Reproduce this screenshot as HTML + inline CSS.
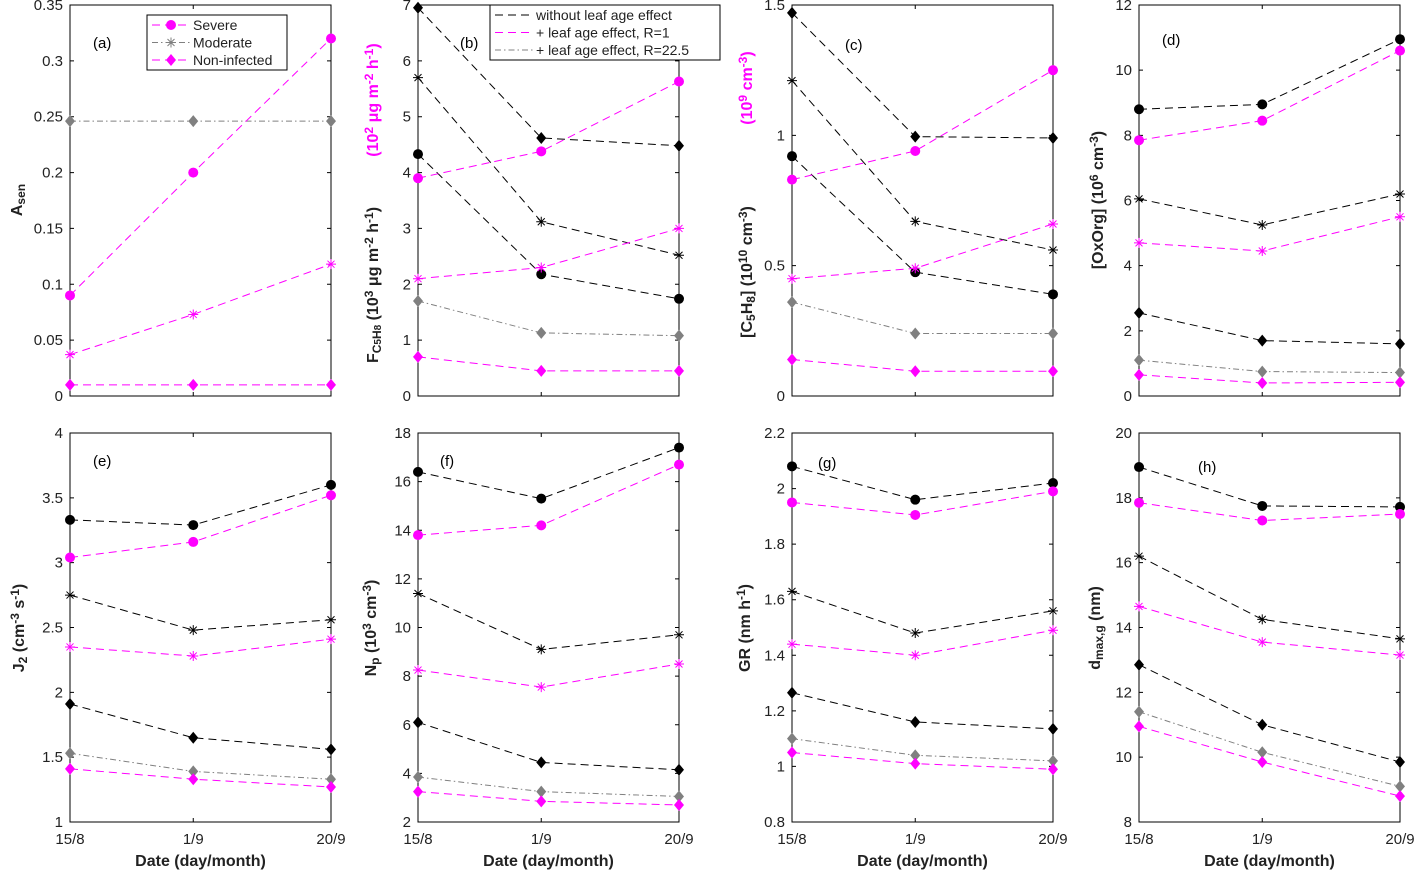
<!DOCTYPE html>
<html><head><meta charset="utf-8">
<style>
html,body{margin:0;padding:0;background:#fff;}
svg{display:block;font-family:"Liberation Sans",sans-serif;}
</style></head>
<body>
<svg id="chart" width="1417" height="870" viewBox="0 0 1417 870" xmlns="http://www.w3.org/2000/svg"></svg>
<script>
// ---- data ----
const dateLabels = ['15/8','1/9','20/9'];
const dayOffsets = [0, 17, 36];

const aSevere = [0.09, 0.2, 0.32];
const aModerate = [0.037, 0.073, 0.118];
const aNonInf = [0.01, 0.01, 0.01];
const aGray = [0.246, 0.246, 0.246];

const bBlkDia = [6.95, 4.62, 4.48];
const bBlkStar = [5.7, 3.12, 2.52];
const bBlkCirc = [4.33, 2.18, 1.74];
const bMagCirc = [3.9, 4.38, 5.63];
const bMagStar = [2.1, 2.3, 3.0];
const bGrayDia = [1.7, 1.13, 1.08];
const bMagDia = [0.7, 0.45, 0.45];

const cBlkDia = [1.47, 0.995, 0.99];
const cBlkStar = [1.21, 0.67, 0.56];
const cBlkCirc = [0.92, 0.475, 0.39];
const cMagCirc = [0.83, 0.94, 1.25];
const cMagStar = [0.45, 0.49, 0.66];
const cGrayDia = [0.36, 0.24, 0.24];
const cMagDia = [0.14, 0.095, 0.095];

const dBlkCirc = [8.8, 8.95, 10.95];
const dMagCirc = [7.85, 8.45, 10.6];
const dBlkStar = [6.05, 5.25, 6.2];
const dMagStar = [4.7, 4.45, 5.5];
const dBlkDia = [2.55, 1.7, 1.6];
const dGrayDia = [1.1, 0.75, 0.72];
const dMagDia = [0.65, 0.4, 0.42];

const eBlkCirc = [3.33, 3.29, 3.6];
const eMagCirc = [3.04, 3.16, 3.52];
const eBlkStar = [2.75, 2.48, 2.56];
const eMagStar = [2.35, 2.28, 2.41];
const eBlkDia = [1.91, 1.65, 1.56];
const eGrayDia = [1.53, 1.39, 1.33];
const eMagDia = [1.41, 1.33, 1.27];

const fBlkCirc = [16.4, 15.3, 17.4];
const fMagCirc = [13.8, 14.2, 16.7];
const fBlkStar = [11.4, 9.1, 9.7];
const fMagStar = [8.25, 7.55, 8.5];
const fBlkDia = [6.1, 4.45, 4.15];
const fGrayDia = [3.85, 3.25, 3.05];
const fMagDia = [3.25, 2.85, 2.7];

const gBlkCirc = [2.08, 1.96, 2.02];
const gMagCirc = [1.95, 1.905, 1.99];
const gBlkStar = [1.63, 1.48, 1.56];
const gMagStar = [1.44, 1.40, 1.49];
const gBlkDia = [1.265, 1.16, 1.135];
const gGrayDia = [1.10, 1.04, 1.02];
const gMagDia = [1.05, 1.01, 0.99];

const hBlkCirc = [18.95, 17.75, 17.72];
const hMagCirc = [17.85, 17.3, 17.5];
const hBlkStar = [16.2, 14.25, 13.65];
const hMagStar = [14.65, 13.55, 13.15];
const hBlkDia = [12.85, 11.0, 9.85];
const hGrayDia = [11.4, 10.15, 9.1];
const hMagDia = [10.95, 9.85, 8.8];

const ticksA = ['0','0.05','0.1','0.15','0.2','0.25','0.3','0.35'];
const ticksB = ['0','1','2','3','4','5','6','7'];
const ticksC = ['0','0.5','1','1.5'];
const ticksD = ['0','2','4','6','8','10','12'];
const ticksE = ['1','1.5','2','2.5','3','3.5','4'];
const ticksF = ['2','4','6','8','10','12','14','16','18'];
const ticksG = ['0.8','1','1.2','1.4','1.6','1.8','2','2.2'];
const ticksH = ['8','10','12','14','16','18','20'];

// ---- drawing ----
const NS = 'http://www.w3.org/2000/svg';
const svg = document.getElementById('chart');
function mk(tag, attrs, parent){
  const e = document.createElementNS(NS, tag);
  for (const k in attrs) e.setAttribute(k, attrs[k]);
  (parent||svg).appendChild(e);
  return e;
}
const MAG = '#ff00ff', GRAY = '#808080', BLK = '#000';
const STY = {
  black: {stroke: BLK, dash: '8,5', w: 1},
  mag: {stroke: MAG, dash: '8,5', w: 1},
  gray: {stroke: GRAY, dash: '6,3,1.5,3', w: 1}
};
function marker(g, type, x, y, col, name){
  let m;
  if (type === 'circle') m = mk('circle', {cx:x, cy:y, r:5, fill:col}, g);
  else if (type === 'diamond') m = mk('polygon', {points:`${x},${y-6} ${x+5},${y} ${x},${y+6} ${x-5},${y}`, fill:col}, g);
  else {
    m = mk('path', {d:`M${x-5},${y}H${x+5}M${x},${y-5}V${y+5}M${x-3.5},${y-3.5}L${x+3.5},${y+3.5}M${x-3.5},${y+3.5}L${x+3.5},${y-3.5}`, stroke:col, 'stroke-width':1, fill:'none'}, g);
  }
  
  
}
function panel(cfg){
  const g = mk('g', {});
  
  
  const x0 = cfg.x0, x1 = cfg.x1, yT = cfg.yT, yB = cfg.yB;
  const xs = d => x0 + (d - dayOffsets[0]) / (dayOffsets[2] - dayOffsets[0]) * (x1 - x0);
  const ys = v => yB - (v - cfg.ymin) / (cfg.ymax - cfg.ymin) * (yB - yT);
  const box = mk('rect', {x:x0, y:yT, width:x1-x0, height:yB-yT, fill:'none', stroke:'#000', 'stroke-width':1}, g);
  
  
  // y ticks
  const n = cfg.ticks.length;
  cfg.ticks.forEach((t, i) => {
    const v = cfg.ymin + i * (cfg.ymax - cfg.ymin) / (n - 1);
    const y = ys(v);
    mk('path', {d:`M${x0},${y}h4M${x1},${y}h-4`, stroke:'#000', 'stroke-width':1}, g);
    const tx = mk('text', {x:x0-7, y:y+5, 'text-anchor':'end', 'font-size':15, fill:'#222'}, g);
    tx.textContent = t;
    
    
  });
  dayOffsets.forEach((d, i) => {
    const x = xs(d);
    mk('path', {d:`M${x},${yB}v-4M${x},${yT}v4`, stroke:'#000', 'stroke-width':1}, g);
    if (cfg.bottom) {
      const tx = mk('text', {x:x, y:yB+22, 'text-anchor':'middle', 'font-size':15, fill:'#222'}, g);
      tx.textContent = dateLabels[i];
      
      
    }
  });
  if (cfg.bottom) {
    const xl = mk('text', {x:(x0+x1)/2, y:yB+44, 'text-anchor':'middle', 'font-size':16, 'font-weight':'bold', fill:'#222'}, g);
    xl.textContent = 'Date (day/month)';
    
    
  }
  const pl = mk('text', {x:cfg.lx, y:cfg.ly, 'font-size':15, fill:'#000'}, g);
  pl.textContent = '(' + cfg.id + ')';
  
  
  cfg.series.forEach(s => {
    const st = STY[s.style];
    const pts = s.data.map((v, i) => [xs(dayOffsets[i]), ys(v)]);
    const ln = mk('polyline', {points: pts.map(p => p.join(',')).join(' '), fill:'none', stroke:st.stroke, 'stroke-width':st.w, 'stroke-dasharray':st.dash}, g);
    
    
    const col = s.style === 'black' ? BLK : s.style === 'mag' ? MAG : GRAY;
    pts.forEach(p => marker(g, s.mk, p[0], p[1], col, 'point-' + s.name));
  });
  // y label
  cfg.ylabels.forEach(yl => {
    const t = mk('text', {transform:`translate(${yl.x},${yl.y}) rotate(-90)`, 'text-anchor':'middle', 'font-size':16, 'font-weight':'bold', fill:yl.color||'#222'}, g);
    t.innerHTML = yl.html;
    
    
  });
}
const sub = s => `<tspan baseline-shift="-25%" font-size="12">${s}</tspan>`;
const sup = s => `<tspan baseline-shift="40%" font-size="12">${s}</tspan>`;
const TOP = [5, 396], BOT = [433, 822];
const XA = [70, 331], XB = [418, 679], XC = [792, 1053], XD = [1139, 1400];
function std(p){
  return [
    {name:'black-diamond', style:'black', mk:'diamond', data:p[0]},
    {name:'black-star', style:'black', mk:'star', data:p[1]},
    {name:'black-circle', style:'black', mk:'circle', data:p[2]},
    {name:'magenta-circle', style:'mag', mk:'circle', data:p[3]},
    {name:'magenta-star', style:'mag', mk:'star', data:p[4]},
    {name:'gray-diamond', style:'gray', mk:'diamond', data:p[5]},
    {name:'magenta-diamond', style:'mag', mk:'diamond', data:p[6]}
  ];
}
panel({id:'a', x0:XA[0], x1:XA[1], yT:TOP[0], yB:TOP[1], ymin:0, ymax:0.35, ticks:ticksA, lx:93, ly:48,
  series:[
    {name:'non-infected-gray', style:'gray', mk:'diamond', data:aGray},
    {name:'severe', style:'mag', mk:'circle', data:aSevere},
    {name:'moderate', style:'mag', mk:'star', data:aModerate},
    {name:'non-infected', style:'mag', mk:'diamond', data:aNonInf}],
  ylabels:[{x:22, y:200, html:'A'+sub('sen'), name:'y-axis-title'}]});
panel({id:'b', x0:XB[0], x1:XB[1], yT:TOP[0], yB:TOP[1], ymin:0, ymax:7, ticks:ticksB, lx:460, ly:48,
  series:std([bBlkDia,bBlkStar,bBlkCirc,bMagCirc,bMagStar,bGrayDia,bMagDia]),
  ylabels:[{x:378, y:285, html:'F'+sub('C'+'<tspan font-size="10">5</tspan>H<tspan font-size="10">8</tspan>')+' (10'+sup('3')+' μg m'+sup('-2')+' h'+sup('-1')+')', name:'y-axis-title'},
           {x:378, y:100, color:MAG, html:'(10'+sup('2')+' μg m'+sup('-2')+' h'+sup('-1')+')', name:'y-axis-title-secondary'}]});
panel({id:'c', x0:XC[0], x1:XC[1], yT:TOP[0], yB:TOP[1], ymin:0, ymax:1.5, ticks:ticksC, lx:845, ly:50,
  series:std([cBlkDia,cBlkStar,cBlkCirc,cMagCirc,cMagStar,cGrayDia,cMagDia]),
  ylabels:[{x:752, y:272, html:'[C'+sub('5')+'H'+sub('8')+'] (10'+sup('10')+' cm'+sup('-3')+')', name:'y-axis-title'},
           {x:752, y:88, color:MAG, html:'(10'+sup('9')+' cm'+sup('-3')+')', name:'y-axis-title-secondary'}]});
panel({id:'d', x0:XD[0], x1:XD[1], yT:TOP[0], yB:TOP[1], ymin:0, ymax:12, ticks:ticksD, lx:1162, ly:45,
  series:std([dBlkDia,dBlkStar,dBlkCirc,dMagCirc,dMagStar,dGrayDia,dMagDia]),
  ylabels:[{x:1103, y:200, html:'[OxOrg] (10'+sup('6')+' cm'+sup('-3')+')', name:'y-axis-title'}]});
panel({id:'e', x0:XA[0], x1:XA[1], yT:BOT[0], yB:BOT[1], ymin:1, ymax:4, ticks:ticksE, lx:93, ly:466, bottom:true,
  series:std([eBlkDia,eBlkStar,eBlkCirc,eMagCirc,eMagStar,eGrayDia,eMagDia]),
  ylabels:[{x:24, y:628, html:'J'+sub('2')+' (cm'+sup('-3')+' s'+sup('-1')+')', name:'y-axis-title'}]});
panel({id:'f', x0:XB[0], x1:XB[1], yT:BOT[0], yB:BOT[1], ymin:2, ymax:18, ticks:ticksF, lx:440, ly:466, bottom:true,
  series:std([fBlkDia,fBlkStar,fBlkCirc,fMagCirc,fMagStar,fGrayDia,fMagDia]),
  ylabels:[{x:376, y:628, html:'N'+sub('p')+' (10'+sup('3')+' cm'+sup('-3')+')', name:'y-axis-title'}]});
panel({id:'g', x0:XC[0], x1:XC[1], yT:BOT[0], yB:BOT[1], ymin:0.8, ymax:2.2, ticks:ticksG, lx:818, ly:468, bottom:true,
  series:std([gBlkDia,gBlkStar,gBlkCirc,gMagCirc,gMagStar,gGrayDia,gMagDia]),
  ylabels:[{x:750, y:628, html:'GR (nm h'+sup('-1')+')', name:'y-axis-title'}]});
panel({id:'h', x0:XD[0], x1:XD[1], yT:BOT[0], yB:BOT[1], ymin:8, ymax:20, ticks:ticksH, lx:1198, ly:472, bottom:true,
  series:std([hBlkDia,hBlkStar,hBlkCirc,hMagCirc,hMagStar,hGrayDia,hMagDia]),
  ylabels:[{x:1100, y:628, html:'d'+sub('max,g')+' (nm)', name:'y-axis-title'}]});

// legends
function legend(x, y, w, h, items, name){
  const g = mk('g', {});
  
  
  mk('rect', {x:x, y:y, width:w, height:h, fill:'#fff', stroke:'#000', 'stroke-width':1}, g);
  items.forEach((it, i) => {
    const yy = y + 10 + i * 17.5;
    const st = STY[it.style];
    mk('path', {d:`M${x+5},${yy}h38`, stroke:st.stroke, 'stroke-dasharray':st.dash, 'stroke-width':1}, g);
    if (it.mk) marker(g, it.mk, x+24, yy, st.stroke, 'legend-marker');
    const t = mk('text', {x:x+46, y:yy+5, 'font-size':14, fill:'#222'}, g);
    t.textContent = it.label;
    
    
  });
}
legend(147, 15, 140, 55, [
  {style:'mag', mk:'circle', label:'Severe'},
  {style:'gray', mk:'star', label:'Moderate'},
  {style:'mag', mk:'diamond', label:'Non-infected'}], 'legend-infection');
legend(490, 5, 230, 55, [
  {style:'black', label:'without leaf age effect'},
  {style:'mag', label:'+ leaf age effect, R=1'},
  {style:'gray', label:'+ leaf age effect, R=22.5'}], 'legend-leaf-age');
</script>
</body></html>
